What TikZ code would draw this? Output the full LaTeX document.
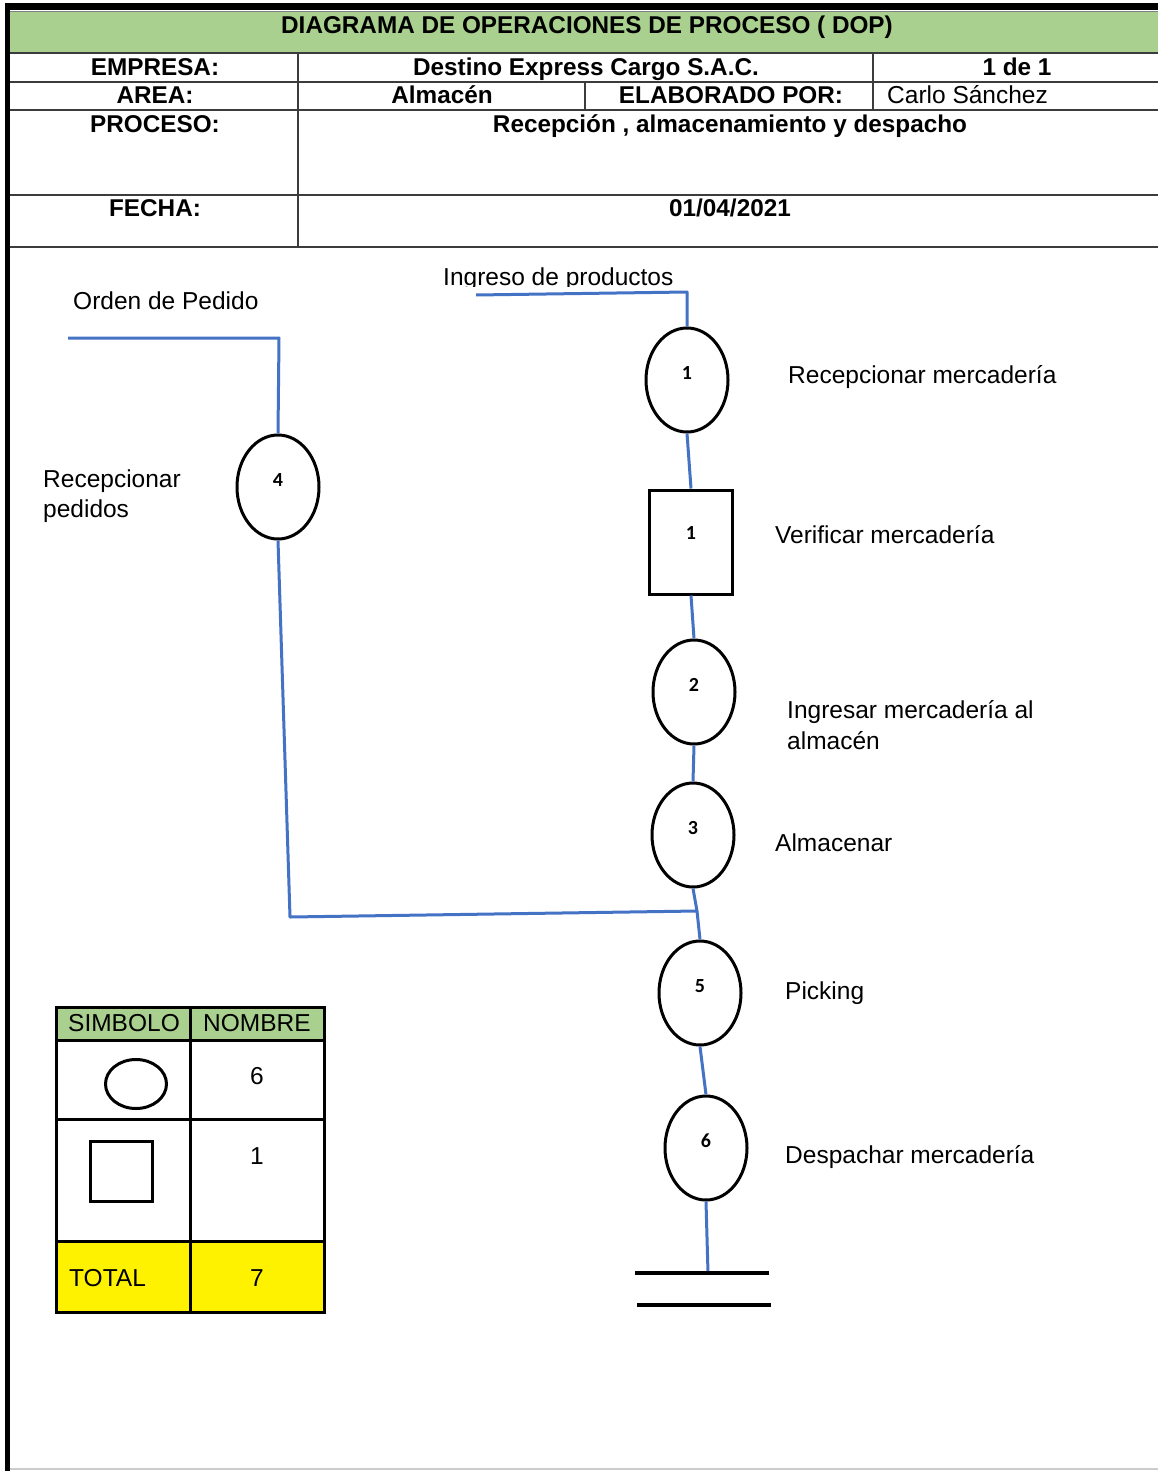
\documentclass[tikz,border=0pt]{standalone}
\usepackage{fontspec}
\setmainfont{Liberation Sans}
\newfontfamily\numfont{Carlito}
\usetikzlibrary{shapes.geometric}
\definecolor{flowblue}{RGB}{68,114,196}
\definecolor{hdrgreen}{RGB}{169,208,142}
\definecolor{gridgray}{RGB}{60,60,60}
\begin{document}
\begin{tikzpicture}[x=1pt,y=-1pt,
  hdr/.style={font=\bfseries\fontsize{24.3}{28}\selectfont, anchor=base, inner sep=0pt},
  txt/.style={font=\fontsize{24.5}{28}\selectfont, anchor=base west, inner sep=0pt},
  ctxt/.style={font=\fontsize{24.5}{28}\selectfont, anchor=base, inner sep=0pt},
  num/.style={font=\numfont\bfseries\fontsize{20}{22}\selectfont, yshift=7pt},
  opbox/.style={ellipse, draw, line width=3pt, minimum width=82pt, minimum height=104pt, inner sep=0pt},
  inspbox/.style={rectangle, draw, line width=3pt, minimum width=83pt, minimum height=104pt, inner sep=0pt},
  flow/.style={draw=flowblue, line width=3pt, line join=round},
  gridline/.style={draw=gridgray, line width=2pt},
  tabline/.style={draw=black, line width=3pt},
  bar/.style={draw=black, line width=3.5pt}
]
\useasboundingbox (0,0) rectangle (1158,1471);
\fill[white] (0,0) rectangle (1158,1471);

% ---------- header ----------
\fill[hdrgreen] (10,12) rectangle (1158,53);
\fill[black] (5,3) rectangle (1158,10);
\fill[black] (5,3) rectangle (10,1471);
\draw[gray, line width=1pt] (10,11.5) -- (1158,11.5);
\draw[gray!40, line width=1.5pt] (10,1469) -- (1158,1469);

\node[hdr] (title) at (587,34) {DIAGRAMA DE OPERACIONES DE PROCESO ( DOP)};
\node[hdr] (emp) at (155,76) {EMPRESA:};
\node[hdr] (empv) at (586,76) {Destino Express Cargo S.A.C.};
\node[hdr] (pag) at (1017,76) {1 de 1};
\node[hdr] (area) at (155,104) {AREA:};
\node[hdr] (areav) at (442,104) {Almacén};
\node[hdr] (elab) at (731,104) {ELABORADO POR:};
\node[txt] (elabv) at (887,104) {Carlo Sánchez};
\node[hdr] (proc) at (155,133) {PROCESO:};
\node[hdr] (procv) at (730,133) {Recepción , almacenamiento y despacho};
\node[hdr] (fecha) at (155,217) {FECHA:};
\node[hdr] (fechav) at (730,217) {01/04/2021};

\draw[gridline] (10,53) -- (1158,53);
\draw[gridline] (10,82) -- (1158,82);
\draw[gridline] (10,110) -- (1158,110);
\draw[gridline] (10,195) -- (1158,195);
\draw[gridline] (10,247) -- (1158,247);
\draw[gridline] (298,53) -- (298,247);
\draw[gridline] (873,53) -- (873,110);
\draw[gridline] (585,82) -- (585,110);

% ---------- process nodes ----------
\node[opbox] (e4) at (278,487) {};
\node[opbox] (e1) at (687,380) {};
\node[inspbox] (sq) at (691,542) {};
\node[opbox] (e2) at (694,692) {};
\node[opbox] (e3) at (693,835) {};
\node[opbox] (e5) at (700,993) {};
\node[opbox] (e6) at (706,1148) {};

\node[num] at (e4) {4};
\node[num] at (e1) {1};
\node[num, yshift=2pt] at (sq) {1};
\node[num] at (e2) {2};
\node[num] at (e3) {3};
\node[num] at (e5) {5};
\node[num] at (e6) {6};

% ---------- connectors ----------
\coordinate (ipA) at (476,295);
\coordinate (ipB) at (687,292);
\coordinate (opA) at (68,338);
\coordinate (opB) at (279,338);
\coordinate (lc) at (290,917);
\coordinate (J) at (697,911);
\coordinate (endp) at (708,1273);
\coordinate (b1l) at (635,1273);
\coordinate (b1r) at (769,1273);
\coordinate (b2l) at (637,1305);
\coordinate (b2r) at (771,1305);

\draw[flow] (ipA) -- (ipB) -- (e1.north);
\draw[flow] (e1.south) -- (sq.north);
\draw[flow] (sq.south) -- (e2.north);
\draw[flow] (e2.south) -- (e3.north);
\draw[flow] (e3.south) -- (J) -- (e5.north);
\draw[flow] (opA) -- (opB) -- (e4.north);
\draw[flow] (e4.south) -- (lc) -- (J);
\draw[flow] (e5.south) -- (e6.north);
\draw[flow] (e6.south) -- (endp);
\draw[bar] (b1l) -- (b1r);
\draw[bar] (b2l) -- (b2r);

% ---------- labels ----------
\node[txt] (lop) at (73,309) {Orden de Pedido};
\begin{scope}
\clip (430,250) rectangle (720,286.5);
\node[txt] (lip) at (443,285) {Ingreso de productos};
\end{scope}
\node[txt] (lrp1) at (43,487) {Recepcionar};
\node[txt] (lrp2) at (43,517) {pedidos};
\node[txt] (l1) at (788,383) {Recepcionar mercadería};
\node[txt] (l2) at (775,543) {Verificar mercadería};
\node[txt] (l3a) at (787,718) {Ingresar mercadería al};
\node[txt] (l3b) at (787,749) {almacén};
\node[txt] (l4) at (775,851) {Almacenar};
\node[txt] (l5) at (785,999) {Picking};
\node[txt] (l6) at (785,1163) {Despachar mercadería};

% ---------- summary table ----------
\fill[hdrgreen] (56,1007) rectangle (324,1040);
\fill[yellow] (56,1241) rectangle (324,1312);
\node[ctxt] (tsim) at (124,1031) {SIMBOLO};
\node[ctxt] (tnom) at (257,1031) {NOMBRE};
\node[ctxt] (t6) at (257,1084) {6};
\node[ctxt] (t1) at (257,1164) {1};
\node[txt] (ttot) at (69,1286) {TOTAL};
\node[ctxt] (t7) at (257,1286) {7};
\node[ellipse, draw, line width=3pt, minimum width=61pt, minimum height=49pt, inner sep=0pt] (symop) at (136,1084) {};
\node[rectangle, draw, line width=3pt, minimum width=62pt, minimum height=60pt, inner sep=0pt] (symin) at (121.5,1171.5) {};
\draw[tabline] (56,1007) rectangle (324,1312);
\draw[tabline] (190,1007) -- (190,1312);
\draw[tabline] (56,1040) -- (324,1040);
\draw[tabline] (56,1119) -- (324,1119);
\draw[tabline] (56,1241) -- (324,1241);
\end{tikzpicture}
\end{document}
